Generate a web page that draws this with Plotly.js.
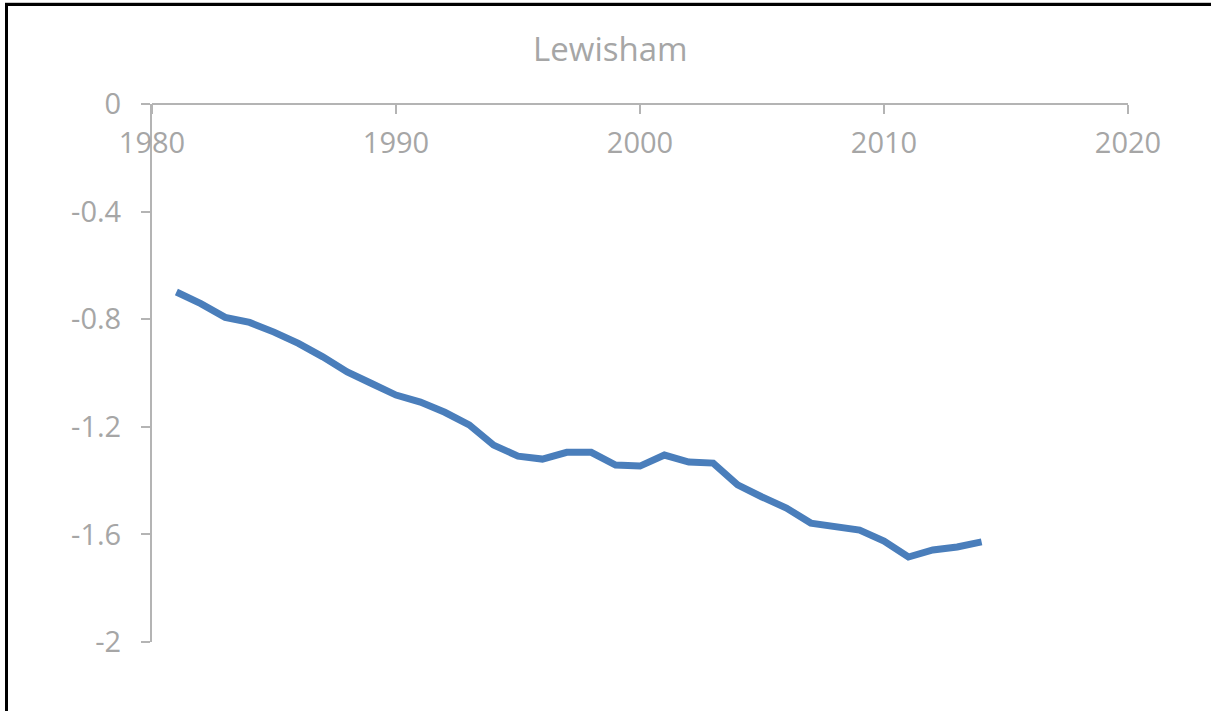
<!DOCTYPE html>
<html>
<head>
<meta charset="utf-8">
<script src="https://cdn.plot.ly/plotly-3.0.1.min.js"></script>
<style>
html,body{margin:0;padding:0;background:#fff;}
#wrap{position:relative;width:1211px;height:711px;overflow:hidden;}
#chart{position:absolute;left:0;top:0;width:1211px;height:711px;}
#frame{position:absolute;left:5px;top:3px;width:1220px;height:760px;border-left:3px solid #000;border-top:3px solid #000;box-shadow:0 -1px 0 #c8c8c8;pointer-events:none;}
</style>
</head>
<body>
<div id="wrap"><div id="chart"></div><div id="frame"></div></div>
<script>
const chartTitle = "Lewisham";
const years = [1981,1982,1983,1984,1985,1986,1987,1988,1989,1990,1991,1992,1993,1994,1995,1996,1997,1998,1999,2000,2001,2002,2003,2004,2005,2006,2007,2008,2009,2010,2011,2012,2013,2014];
const values = [-0.699,-0.742,-0.793,-0.812,-0.848,-0.890,-0.940,-0.996,-1.039,-1.082,-1.108,-1.146,-1.193,-1.268,-1.309,-1.320,-1.295,-1.295,-1.342,-1.346,-1.305,-1.331,-1.335,-1.416,-1.461,-1.502,-1.558,-1.569,-1.584,-1.625,-1.684,-1.658,-1.647,-1.628];
const xTicks = [1980,1990,2000,2010,2020];
const yTicks = [0,-0.4,-0.8,-1.2,-1.6,-2];
const yTickText = ["0","-0.4","-0.8","-1.2","-1.6","-2"];

const gray = "#a6a6a6";
const axisGray = "#b4b4b4";
const fontFam = "Open Sans, sans-serif";

const trace = {
  x: years, y: values, type: "scatter", mode: "lines",
  line: {color: "#4a7ebb", width: 7},
  hoverinfo: "skip"
};

const layout = {
  width: 1211, height: 711,
  margin: {l: 152, r: 83, t: 104, b: 69},
  paper_bgcolor: "#fff", plot_bgcolor: "#fff",
  showlegend: false,
  title: {text: chartTitle, font: {family: fontFam, size: 33, color: gray},
          x: 0.504, xref: "container", xanchor: "center", y: 0.93, yref: "container", yanchor: "middle"},
  xaxis: {
    range: [1980, 2020], tickvals: xTicks, ticktext: xTicks.map(String),
    anchor: "free", position: 1, side: "bottom",
    showline: true, linecolor: axisGray, linewidth: 2,
    ticks: "outside", ticklen: 9, tickwidth: 2, tickcolor: axisGray,
    showgrid: false, zeroline: false,
    tickfont: {family: fontFam, size: 29, color: gray},
    ticklabelstandoff: 4
  },
  yaxis: {
    range: [-2, 0], tickvals: yTicks, ticktext: yTickText,
    showline: true, linecolor: axisGray, linewidth: 2,
    ticks: "outside", ticklen: 9, tickwidth: 2, tickcolor: axisGray,
    showgrid: false, zeroline: false,
    tickfont: {family: fontFam, size: 29, color: gray},
    ticklabelstandoff: 14
  }
};

Plotly.newPlot("chart", [trace], layout, {displayModeBar: false, staticPlot: true});
</script>
</body>
</html>
